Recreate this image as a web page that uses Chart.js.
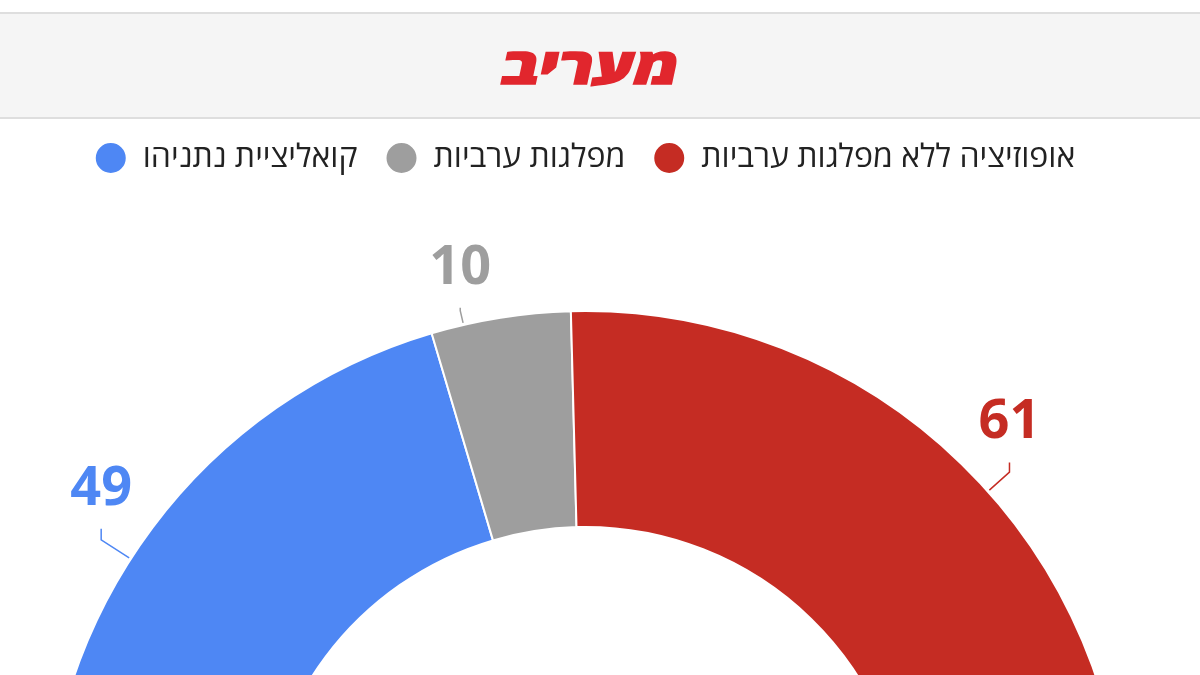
<!DOCTYPE html>
<html lang="he">
<head>
<meta charset="utf-8">
<title>מעריב - סקר מנדטים</title>
<script src="https://cdn.jsdelivr.net/npm/chart.js@4.4.1/dist/chart.umd.min.js"></script>
<style>
  html, body { margin: 0; padding: 0; background: #fff; width: 1200px; height: 675px; overflow: hidden; }
  .masthead {
    position: absolute; left: 0; top: 12px; width: 1200px; height: 103px;
    background: #f5f5f5; border-top: 2px solid #dedede; border-bottom: 2px solid #dedede;
  }
  .logo {
    position: absolute; left: -18px; right: 0; top: 26px; text-align: center;
    font: 900 50px/50px 'Open Sans', 'DejaVu Sans', sans-serif; color: #e1262d;
    -webkit-text-stroke: 1.5px #e1262d;
    transform: skewX(-12deg) scaleX(1.27); direction: rtl;
  }
  .chart-box { position: absolute; left: 0; top: 120px; width: 1200px; height: 900px; }
</style>
</head>
<body>
<div class="masthead"><div class="logo">מעריב</div></div>
<div class="chart-box"><canvas id="seats-chart"></canvas></div>
<script>
// seats per bloc, 120 in total
const blocs = ['קואליציית נתניהו', 'מפלגות ערביות', 'אופוזיציה ללא מפלגות ערביות'];
const seats = [49, 10, 61];

const blocColors = ['#4e87f4', '#9e9e9e', '#c52c23'];

// number + leader line over every slice
const seatLabels = {
  id: 'seatLabels',
  afterDatasetsDraw(chart, args, opts) {
    const ctx = chart.ctx;
    const ds = chart.data.datasets[0];
    const top = -Math.PI / 2;
    const spread = opts.spread * Math.PI / 180;
    chart.getDatasetMeta(0).data.forEach((arc, i) => {
      const p = arc.getProps(['x', 'y', 'startAngle', 'endAngle', 'outerRadius'], true);
      let a = (p.startAngle + p.endAngle) / 2;
      a += a < top ? -spread : spread;
      const cos = Math.cos(a), sin = Math.sin(a);
      const r0 = p.outerRadius + 2;
      const x0 = p.x + r0 * cos, y0 = p.y + r0 * sin;
      // slices near the top get a shorter leader
      const rise = opts.rise * Math.min(1, 0.55 + Math.abs(cos) * 0.6);
      const len = rise / Math.abs(sin);
      const x1 = x0 + len * cos, y1 = y0 + len * sin;
      const y2 = y1 - opts.stem * Math.abs(cos) * 1.3;
      const color = ds.backgroundColor[i];
      ctx.save();
      ctx.strokeStyle = color;
      ctx.lineWidth = 1.5;
      ctx.beginPath();
      ctx.moveTo(x0, y0);
      ctx.lineTo(x1, y1);
      ctx.lineTo(x1, y2);
      ctx.stroke();
      ctx.fillStyle = color;
      ctx.font = '700 54px "Open Sans", sans-serif';
      ctx.textAlign = 'center';
      ctx.textBaseline = 'alphabetic';
      ctx.fillText(String(ds.data[i]), x1, y2 - opts.gap);
      ctx.restore();
    });
  }
};

new Chart(document.getElementById('seats-chart'), {
  type: 'doughnut',
  data: {
    labels: blocs,
    datasets: [{
      data: seats,
      backgroundColor: blocColors,
      borderColor: '#ffffff',
      borderWidth: 2
    }]
  },
  options: {
    responsive: true,
    maintainAspectRatio: false,
    animation: false,
    rotation: -90,
    circumference: 180,
    cutout: '60%',
    radius: 540,
    layout: { padding: { top: -6, left: 0, right: 30, bottom: 42 } },
    plugins: {
      legend: {
        position: 'top',
        labels: {
          usePointStyle: true,
          pointStyle: 'circle',
          pointStyleWidth: 32,
          boxHeight: 22.6,
          padding: 28,
          color: '#222222',
          font: { family: "'Open Sans', 'DejaVu Sans', sans-serif", size: 32 }
        }
      },
      tooltip: { enabled: false },
      seatLabels: { spread: 4, rise: 18, stem: 10, gap: 24 }
    }
  },
  plugins: [seatLabels]
});
</script>
</body>
</html>
